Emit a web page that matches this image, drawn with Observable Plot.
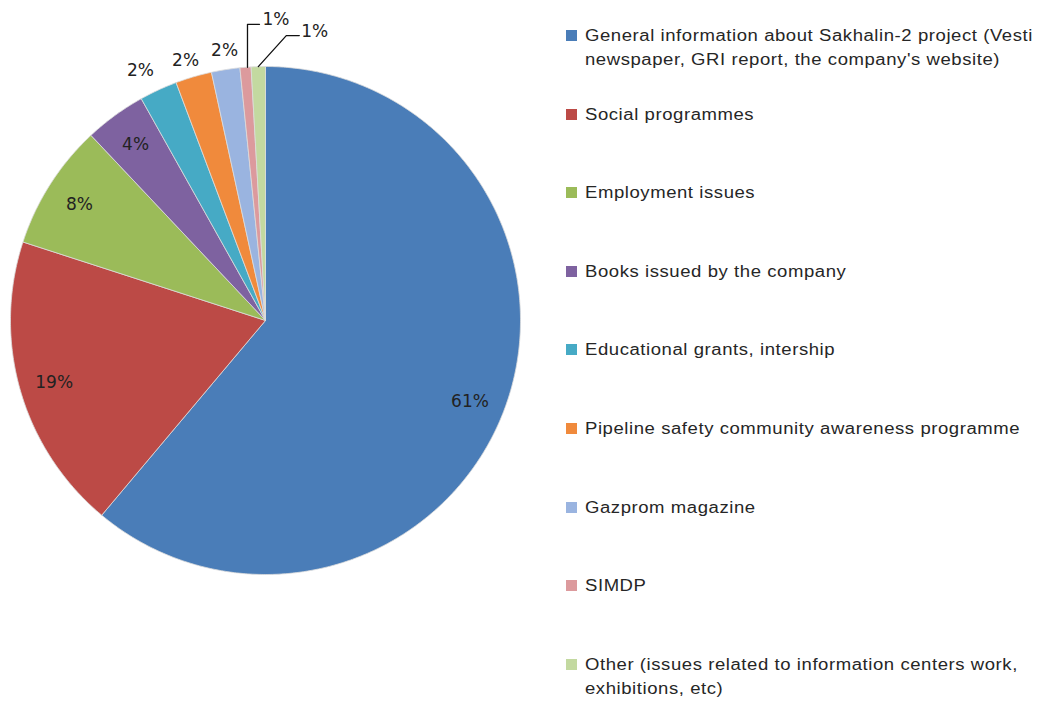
<!DOCTYPE html>
<html>
<head>
<meta charset="utf-8">
<script src="https://cdn.jsdelivr.net/npm/d3@7"></script>
<script src="https://cdn.jsdelivr.net/npm/@observablehq/plot@0.6"></script>
<style>
  body { margin: 0; background: #fff; }
  #wrap { position: relative; width: 1038px; height: 702px; overflow: hidden; background: #fff; }
  #chart { position: absolute; left: 0; top: 0; }
  #legend { position: absolute; left: 0; top: 0; font-family: "Liberation Sans", Arial, sans-serif; font-size: 16px; letter-spacing: 0.5px; color: #262626; }
  .item { position: absolute; left: 566px; width: 472px; }
  .sw { position: absolute; left: 0; width: 11px; height: 11px; }
  .tx { position: absolute; left: 19px; width: 400px; line-height: 24px; white-space: normal; transform: scaleX(1.156); transform-origin: 0 0; }
</style>
</head>
<body>
<div id="wrap"><div id="chart"></div><div id="legend"></div></div>
<script>
// ---- data ----
const categories = [
  "General information about Sakhalin-2 project (Vesti newspaper, GRI report, the company's website)",
  "Social programmes",
  "Employment issues",
  "Books issued by the company",
  "Educational grants, intership",
  "Pipeline safety community awareness programme",
  "Gazprom magazine",
  "SIMDP",
  "Other (issues related to information centers work, exhibitions, etc)"
];
const values = [61.1, 18.9, 8.0, 3.9, 2.4, 2.3, 1.8, 0.7, 0.9];
const pctLabels = ["61%", "19%", "8%", "4%", "2%", "2%", "2%", "1%", "1%"];
const colors = ["#4A7DB8", "#BC4A46", "#9BBB59", "#7E62A0", "#46AAC5", "#F08A3C", "#9AB4E0", "#DC9A9D", "#C3D9A0"];

// ---- layout (styling only) ----
const W = 1038, H = 702;
const mL = 10, mR = 518, mT = 66, mB = 128;
const pxX = (W - mL - mR) / 2, pxY = (H - mT - mB) / 2;
const labelInside = [true, true, true, true, false, false, false, false, false];
const labelRadius = [0.87, 0.85, 0.85, 0.85];
const labelNudge = [[-4,6],[-3,2],[-3,0],[-2,-2],[-18,-19],[-8,-16],[-1,-19],[null],[null]];

const data = categories.map((name, i) => ({name, value: values[i], label: pctLabels[i], i}));
const arcs = d3.pie().sort(null).value(d => d.value)(data);

// slice polygons in unit-circle data space (y up)
const pts = [];
for (const a of arcs) {
  const n = Math.max(2, Math.ceil((a.endAngle - a.startAngle) / (Math.PI / 360)));
  pts.push({name: a.data.name, x: 0, y: 0});
  for (let k = 0; k <= n; k++) {
    const t = a.startAngle + (a.endAngle - a.startAngle) * k / n;
    pts.push({name: a.data.name, x: Math.sin(t), y: Math.cos(t)});
  }
  pts.push({name: a.data.name, x: 0, y: 0});
}

const labelFont = {fontFamily: "DejaVu Sans, sans-serif", fontSize: 17, fill: "#222"};
const textMarks = [];
const leaders = [];
arcs.forEach((a, i) => {
  const m = (a.startAngle + a.endAngle) / 2;
  const ex = Math.sin(m), ey = Math.cos(m);
  if (labelInside[i]) {
    const r = labelRadius[i];
    textMarks.push(Plot.text([a.data], {x: () => r * ex, y: () => r * ey, text: "label", dx: labelNudge[i][0], dy: labelNudge[i][1], ...labelFont}));
  } else if (labelNudge[i][0] !== null) {
    textMarks.push(Plot.text([a.data], {x: () => ex, y: () => ey, text: "label", dx: labelNudge[i][0], dy: labelNudge[i][1], ...labelFont}));
  }
});
// leader lines for the two thinnest slices
{
  const a = arcs[7];
  const m = (a.startAngle + a.endAngle) / 2;
  const p0 = {x: Math.sin(m) + 2 / pxX, y: Math.cos(m)};
  const p1 = {x: p0.x, y: p0.y + 43 / pxY};
  const p2 = {x: p1.x + 12 / pxX, y: p1.y};
  leaders.push(Plot.line([p0, p1, p2], {x: "x", y: "y", stroke: "#111", strokeWidth: 1.3}));
  textMarks.push(Plot.text([{...a.data, x: p2.x, y: p2.y}], {x: "x", y: "y", text: "label", textAnchor: "start", dx: 3, dy: -5, ...labelFont}));
}
{
  const a = arcs[8];
  const m = (a.startAngle + a.endAngle) / 2;
  const p0 = {x: Math.sin(m), y: Math.cos(m)};
  const p1 = {x: p0.x + 28 / pxX, y: p0.y + 31 / pxY};
  const p2 = {x: p1.x + 13 / pxX, y: p1.y};
  leaders.push(Plot.line([p0, p1, p2], {x: "x", y: "y", stroke: "#111", strokeWidth: 1.3}));
  textMarks.push(Plot.text([{...a.data, x: p2.x, y: p2.y}], {x: "x", y: "y", text: "label", textAnchor: "start", dx: 2, dy: -4, ...labelFont}));
}

const chart = Plot.plot({
  width: W, height: H,
  marginLeft: mL, marginRight: mR, marginTop: mT, marginBottom: mB,
  style: {background: "transparent", overflow: "visible"},
  x: {domain: [-1, 1], axis: null},
  y: {domain: [-1, 1], axis: null},
  color: {domain: categories, range: colors},
  marks: [
    Plot.line(pts, {x: "x", y: "y", z: "name", fill: "name", stroke: "#dcdcdc", strokeWidth: 0.8, curve: "linear"}),
    ...leaders,
    ...textMarks
  ]
});
document.getElementById("chart").appendChild(chart);

// ---- legend ----
const legend = document.getElementById("legend");
categories.forEach((name, i) => {
  const cy = 36 + i * 78.6;
  const item = document.createElement("div");
  item.className = "item";
  item.style.top = (cy - 12) + "px";
  const sw = document.createElement("div");
  sw.className = "sw";
  sw.style.background = colors[i];
  sw.style.top = "6px";
  const tx = document.createElement("div");
  tx.className = "tx";
  tx.textContent = name;
  item.appendChild(sw);
  item.appendChild(tx);
  legend.appendChild(item);
});
</script>
</body>
</html>
